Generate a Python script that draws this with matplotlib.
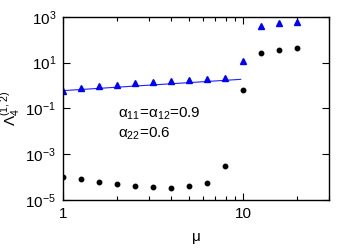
import numpy as np
import matplotlib
matplotlib.use("Agg")
import matplotlib.pyplot as plt
from matplotlib.ticker import LogLocator, FixedLocator, NullFormatter

plt.rcParams['font.family'] = ['Liberation Sans', 'DejaVu Sans']
plt.rcParams['mathtext.fontset'] = 'custom'
plt.rcParams['mathtext.rm'] = 'Liberation Sans'
plt.rcParams['mathtext.it'] = 'Liberation Sans'

# --- data ---
mu = [1.0, 1.26, 1.58, 2.0, 2.51, 3.16, 3.98, 5.01, 6.31, 7.94, 10.0, 12.6, 15.8, 20.0]
tri_log = [-0.22, -0.11, -0.04, 0.03, 0.10, 0.16, 0.20, 0.24, 0.28, 0.31,
           1.07, 2.62, 2.75, 2.78]
dot_log = [-4.00, -4.09, -4.20, -4.29, -4.37, -4.45, -4.48, -4.41, -4.26, -3.52,
           -0.20, 1.44, 1.55, 1.66]
fit_mu = [1.0, 9.7]
fit_vals = [0.60, 1.87]

tri = 10.0 ** np.array(tri_log)
dots = 10.0 ** np.array(dot_log)

fig = plt.figure(figsize=(3.56, 2.49), dpi=100)
ax = fig.add_axes([0.177, 0.197, 0.747, 0.735])

ax.plot(fit_mu, fit_vals, color='#2020ff', lw=0.8)
ax.plot(mu, tri, ls='none', marker='^', ms=4.6, color='#0000ff', mec='#0000ff')
ax.plot(mu, dots, ls='none', marker='o', ms=3.2, color='black')

ax.set_xscale('log')
ax.set_yscale('log')
ax.set_xlim(1, 30)
ax.set_ylim(1e-5, 1e3)

ax.xaxis.set_major_locator(FixedLocator([1, 10]))
ax.xaxis.set_minor_locator(LogLocator(base=10, subs=np.arange(2, 10)))
ax.xaxis.set_minor_formatter(NullFormatter())
ax.set_xticklabels(['1', '10'])
ax.yaxis.set_major_locator(FixedLocator([1e-5, 1e-3, 1e-1, 1e1, 1e3]))
ax.yaxis.set_minor_locator(FixedLocator([]))
ax.set_yticklabels([r'$\mathregular{10^{-5}}$', r'$\mathregular{10^{-3}}$',
                    r'$\mathregular{10^{-1}}$', r'$\mathregular{10^{1}}$',
                    r'$\mathregular{10^{3}}$'])

ax.tick_params(which='both', direction='in', top=True, right=True, labelsize=11,
               width=0.8, pad=5)
ax.tick_params(which='major', length=5)
ax.tick_params(which='minor', length=3)
for s in ax.spines.values():
    s.set_linewidth(1.0)

ax.text(0.207, 0.45, r'$\mathregular{α_{11}}$=$\mathregular{α_{12}}$=0.9',
        transform=ax.transAxes, fontsize=11)
ax.text(0.207, 0.34, r'$\mathregular{α_{22}}$=0.6', transform=ax.transAxes, fontsize=11)

ax.set_xlabel(r'$\mathregular{μ}$', fontsize=11, labelpad=7)
ax.set_ylabel(r'$\mathregular{Λ_4^{(1,2)}}$', fontsize=11, labelpad=2)

fig.savefig('out.png', dpi=100)
